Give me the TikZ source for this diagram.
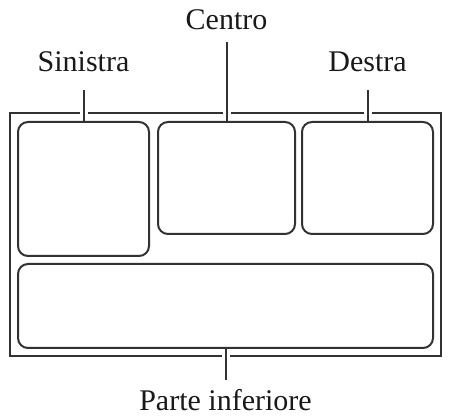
\documentclass[tikz,border=0pt]{standalone}
\usepackage{fontspec}
\setmainfont{Liberation Serif}
\usepackage{tikz}
\usetikzlibrary{positioning}
\definecolor{lineGray}{RGB}{50, 50, 50}
\definecolor{textGray}{RGB}{25, 25, 25}

\begin{document}
\begin{tikzpicture}[
    x=0.5pt, y=-0.5pt,
    every node/.style={font=\fontsize{15}{18}\selectfont},
    frame/.style={rectangle, draw=lineGray, line width=1pt, inner sep=0pt, outer sep=0pt},
    panel/.style={rectangle, rounded corners=5pt, draw=lineGray, line width=1pt, inner sep=0pt, outer sep=0pt},
    label/.style={anchor=base, inner sep=0pt, text=textGray},
    leader/.style={draw=lineGray, line width=1pt, preaction={draw=white, line width=4pt, shorten >=2.5pt}},
]
\useasboundingbox (0,0) rectangle (451,417);
% OUTER FRAME
\node[frame, minimum width=215.5pt, minimum height=121.5pt] (screen) at (225.5, 234.5) {};
% PANELS
\node[panel, minimum width=65.5pt, minimum height=67pt] (left) at (83.5, 189) {};
\node[panel, minimum width=68.5pt, minimum height=56pt] (centre) at (226.5, 178) {};
\node[panel, minimum width=65.5pt, minimum height=56pt] (right) at (367.5, 178) {};
\node[panel, minimum width=207.5pt, minimum height=42pt] (bottom) at (225.5, 306) {};
% LABELS
\node[label] (left_lab) at (83.5, 72) {Sinistra};
\node[label] (centre_lab) at (226.5, 30) {Centro};
\node[label] (right_lab) at (367.5, 72) {Destra};
\node[label] (bottom_lab) at (225.5, 411) {Parte inferiore};
% LEADERS
\draw[leader, shorten <=8.5pt] (left_lab.south) -- (left.north);
\draw[leader, shorten <=5.5pt] (centre_lab.south) -- (centre.north);
\draw[leader, shorten <=8.5pt] (right_lab.south) -- (right.north);
\draw[leader, shorten <=4.5pt] (bottom_lab.north) -- (bottom.south);
\end{tikzpicture}
\end{document}
